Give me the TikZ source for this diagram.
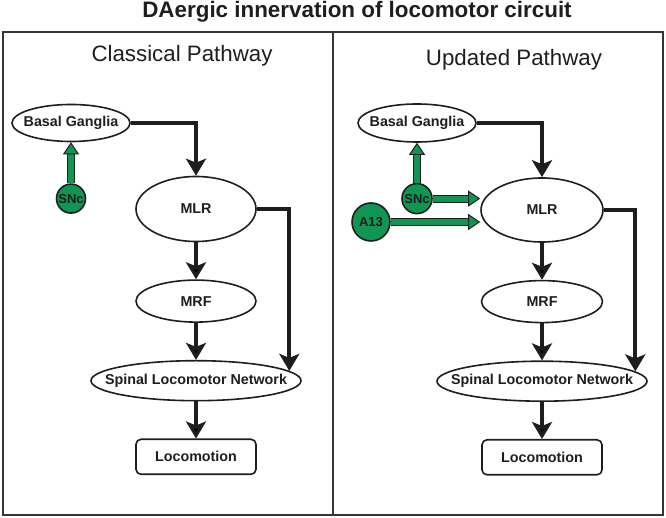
\documentclass[tikz,border=0pt]{standalone}
\usepackage{fontspec}
\setmainfont{Liberation Sans}
\usetikzlibrary{arrows.meta,positioning,shapes.geometric}
\definecolor{dagreen}{RGB}{16,150,82}
\definecolor{ink}{RGB}{30,30,30}

\begin{document}
\begin{tikzpicture}[x=1pt,y=1pt,node distance=37pt,
	region/.style={ellipse,draw=ink,line width=1.6pt,fill=white,inner sep=0pt,text=ink,
		font=\bfseries\fontsize{14.3}{16}\selectfont,
		execute at begin node={\hbox to 0pt\bgroup\hss},execute at end node={\hss\egroup}},
	nucleus/.style={circle,draw=ink,line width=1.6pt,fill=dagreen,inner sep=0pt,text=ink,
		font=\bfseries\fontsize{13}{15}\selectfont,
		execute at begin node={\hbox to 0pt\bgroup\hss},execute at end node={\hss\egroup}},
	outbox/.style={rectangle,rounded corners=5pt,draw=ink,line width=1.6pt,inner sep=0pt,text=ink,
		minimum width=120pt,minimum height=35pt,font=\bfseries\fontsize{14.3}{16}\selectfont},
	heading/.style={anchor=base,text=ink,font=\fontsize{22.3}{26}\selectfont},
	frame/.style={draw=ink!90,line width=1.5pt},
	conn/.style={draw=ink,line width=4pt,-{Stealth[length=17pt,width=20pt,inset=4pt]}},
	daconn/.style={draw=ink,line width=1pt,double=dagreen,double distance=6pt,
		-{Triangle[length=12pt,width=16pt,fill=dagreen,line width=1pt]}}]

\useasboundingbox (0,0) rectangle (666,518);
\draw[frame] (3,3) rectangle (663,486);
\draw[frame] (333,3) -- (333,486);

\node[anchor=base,text=ink,font=\bfseries\fontsize{22.4}{26}\selectfont] (title) at (357,500) {DAergic innervation of locomotor circuit};
\node[heading]   (chead) at (182,456)   {Classical Pathway};
\node[heading]   (uhead) at (514,452)   {Updated Pathway};

% classical pathway
\node[region,minimum width=120pt,minimum height=65pt]   (cmlr) at (196,309)   {MLR};
\node[region,minimum width=120pt,minimum height=42pt]   (cmrf) [below=of cmlr]   {MRF};
\node[region,minimum width=210pt,minimum height=40pt]   (cspn) [below=of cmrf]   {Spinal Locomotor Network};
\node[outbox]   (cloc) [below=of cspn]   {Locomotion};
\node[region,minimum width=118pt,minimum height=37pt]   (cbg) at (71,395)   {Basal Ganglia};
\node[nucleus,minimum size=29pt]   (csnc) [below=41pt of cbg]   {SNc};

% updated pathway
\node[region,minimum width=122pt,minimum height=64pt]   (umlr) at (542,308)   {MLR};
\node[region,minimum width=121pt,minimum height=42pt]   (umrf) [below=of umlr]   {MRF};
\node[region,minimum width=210pt,minimum height=40pt]   (uspn) [below=of umrf]   {Spinal Locomotor Network};
\node[outbox]   (uloc) [below=of uspn]   {Locomotion};
\node[region,minimum width=118pt,minimum height=38pt]   (ubg) at (417,395)   {Basal Ganglia};
\node[nucleus,minimum size=30pt]   (usnc) [below=40pt of ubg]   {SNc};
\node[nucleus,minimum size=38pt]   (ua13) at (371,296)   {A13};

	\path[conn] (cmlr)  edge   (cmrf)
				(cmrf)  edge   (cspn)
				(cspn)  edge   (cloc)
				(umlr)  edge   (umrf)
				(umrf)  edge   (uspn)
				(uspn)  edge   (uloc);
	\draw[conn] (cbg.east) -| (cmlr.north);
	\draw[conn] (cmlr.east) -| (cspn.6);
	\draw[conn] (ubg.east) -| (umlr.north);
	\draw[conn] (umlr.east) -| (uspn.6);

	\draw[daconn] (csnc) -- (cbg);
	\draw[daconn] (usnc) -- (ubg);
	\draw[daconn] (usnc) -- (usnc -| umlr.west);
	\draw[daconn] (ua13) -- (ua13 -| umlr.west);
\end{tikzpicture}
\end{document}
